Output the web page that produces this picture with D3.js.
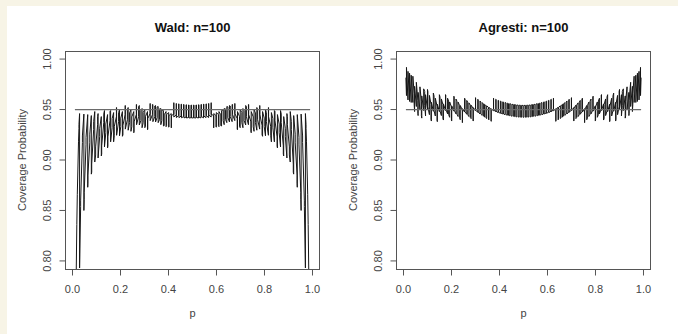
<!DOCTYPE html>
<html>
<head>
<meta charset="utf-8">
<script src="https://cdn.jsdelivr.net/npm/d3@7"></script>
<style>
  body { margin: 0; background: #fff; }
  svg { display: block; font-family: "Liberation Sans", Arial, Helvetica, sans-serif; }
</style>
</head>
<body>
<div id="chart"></div>
<script>
// coverage probability of the nominal 95% interval, n = 100
// one entry per break in the curve: [p, coverage just before, coverage just after]
const waldBreaks = [
  [0.0100,0.634,0.634],[0.0150,0.779,0.779],[0.0180,0.836,0.836],[0.0200,0.866,0.866],[0.0250,0.918,0.918],
  [0.0268,0.931,0.935],[0.0295,0.946,0.793],[0.0339,0.854,0.8595],[0.0412,0.9175,0.9238],[0.0474,0.9455,0.850],
  [0.0487,0.861,0.868],[0.0563,0.915,0.9225],[0.0634,0.945,0.873],[0.0641,0.877,0.885],[0.0720,0.917,0.9256],
  [0.0784,0.944,0.886],[0.0800,0.888,0.896],[0.0881,0.930,0.938],[0.0927,0.948,0.898],[0.0964,0.905,0.913],
  [0.1047,0.935,0.943],[0.1066,0.946,0.902],[0.1131,0.923,0.931],[0.1200,0.943,0.904],[0.1216,0.906,0.914],
  [0.1302,0.937,0.9455],[0.1332,0.949,0.913],[0.1388,0.927,0.9356],[0.1461,0.945,0.912],[0.1475,0.914,0.923],
  [0.1563,0.939,0.948],[0.1588,0.949,0.918],[0.1651,0.932,0.941],[0.1713,0.947,0.918],[0.1740,0.924,0.933],
  [0.1830,0.943,0.952],[0.1837,0.952,0.9245],[0.1920,0.938,0.947],[0.1959,0.950,0.924],[0.2011,0.933,0.9415],
  [0.2080,0.948,0.9235],[0.2102,0.925,0.9344],[0.2194,0.945,0.954],[0.2200,0.954,0.9306],[0.2286,0.940,0.9495],
  [0.2319,0.952,0.9295],[0.2378,0.937,0.9466],[0.2436,0.950,0.9284],[0.2471,0.933,0.9427],[0.2553,0.948,0.927],
  [0.2565,0.928,0.9378],[0.2659,0.945,0.955],[0.2669,0.955,0.935],[0.2754,0.943,0.953],[0.2784,0.954,0.9347],
  [0.2849,0.939,0.949],[0.2898,0.951,0.932],[0.2944,0.937,0.947],[0.3012,0.950,0.932],[0.3040,0.933,0.943],
  [0.3125,0.948,0.930],[0.3136,0.9305,0.941],[0.3233,0.946,0.956],[0.3237,0.956,0.939],[0.3330,0.945,0.955],
  [0.3349,0.955,0.938],[0.3427,0.943,0.9535],[0.3460,0.954,0.9377],[0.3525,0.942,0.9526],[0.3570,0.953,0.937],
  [0.3623,0.940,0.9506],[0.3680,0.951,0.935],[0.3722,0.939,0.9497],[0.3789,0.949,0.9337],[0.3821,0.934,0.9448],
  [0.3898,0.948,0.933],[0.3920,0.934,0.945],[0.4007,0.947,0.9325],[0.4020,0.933,0.944],[0.4114,0.946,0.9318],
  [0.4120,0.932,0.944],[0.4221,0.9454,0.9568],[0.4222,0.9568,0.9426],[0.4322,0.9446,0.956],[0.4329,0.956,0.942],
  [0.4423,0.944,0.9556],[0.4435,0.9556,0.942],[0.4525,0.9435,0.9553],[0.4541,0.9553,0.9418],[0.4627,0.943,0.955],
  [0.4646,0.955,0.9417],[0.4730,0.9425,0.9547],[0.4751,0.9547,0.9416],[0.4833,0.9421,0.9545],[0.4856,0.9545,0.9416],
  [0.4936,0.9419,0.9544],[0.4960,0.9544,0.9417],[0.5040,0.9417,0.9544],[0.5064,0.9544,0.9419],[0.5144,0.9416,0.9545],
  [0.5167,0.9545,0.9421],[0.5249,0.9416,0.9547],[0.5270,0.9547,0.9425],[0.5354,0.9417,0.955],[0.5373,0.955,0.943],
  [0.5459,0.9418,0.9553],[0.5475,0.9553,0.9435],[0.5565,0.942,0.9556],[0.5577,0.9556,0.944],[0.5671,0.942,0.956],
  [0.5678,0.956,0.9446],[0.5778,0.9426,0.9568],[0.5779,0.9568,0.9454],[0.5880,0.944,0.932],[0.5886,0.9318,0.946],
  [0.5980,0.944,0.933],[0.5993,0.9325,0.947],[0.6080,0.945,0.934],[0.6102,0.933,0.948],[0.6179,0.9448,0.934],
  [0.6211,0.9337,0.949],[0.6278,0.9497,0.939],[0.6320,0.935,0.951],[0.6377,0.9506,0.940],[0.6430,0.937,0.953],
  [0.6475,0.9526,0.942],[0.6540,0.9377,0.954],[0.6573,0.9535,0.943],[0.6651,0.938,0.955],[0.6670,0.955,0.945],
  [0.6763,0.939,0.956],[0.6767,0.956,0.946],[0.6864,0.941,0.9305],[0.6875,0.930,0.948],[0.6960,0.943,0.933],
  [0.6988,0.932,0.950],[0.7056,0.947,0.937],[0.7102,0.932,0.951],[0.7151,0.949,0.939],[0.7216,0.9347,0.954],
  [0.7246,0.953,0.943],[0.7331,0.935,0.955],[0.7341,0.955,0.945],[0.7435,0.9378,0.928],[0.7447,0.927,0.948],
  [0.7529,0.9427,0.933],[0.7564,0.9284,0.950],[0.7622,0.9466,0.937],[0.7681,0.9295,0.952],[0.7714,0.9495,0.940],
  [0.7800,0.9306,0.954],[0.7806,0.954,0.945],[0.7898,0.9344,0.925],[0.7920,0.9235,0.948],[0.7989,0.9415,0.933],
  [0.8041,0.924,0.950],[0.8080,0.947,0.938],[0.8163,0.9245,0.952],[0.8170,0.952,0.943],[0.8260,0.933,0.924],
  [0.8287,0.918,0.947],[0.8349,0.941,0.932],[0.8412,0.918,0.949],[0.8437,0.948,0.939],[0.8525,0.923,0.914],
  [0.8539,0.912,0.945],[0.8612,0.9356,0.927],[0.8668,0.913,0.949],[0.8698,0.9455,0.937],[0.8784,0.914,0.906],
  [0.8800,0.904,0.943],[0.8869,0.931,0.923],[0.8934,0.902,0.946],[0.8953,0.943,0.935],[0.9036,0.913,0.905],
  [0.9073,0.898,0.948],[0.9119,0.938,0.930],[0.9200,0.896,0.888],[0.9216,0.886,0.944],[0.9280,0.9256,0.917],
  [0.9359,0.885,0.877],[0.9366,0.873,0.945],[0.9437,0.9225,0.915],[0.9513,0.868,0.861],[0.9526,0.850,0.9455],
  [0.9588,0.9238,0.9175],[0.9661,0.8595,0.854],[0.9705,0.793,0.946],[0.9732,0.935,0.931],[0.9750,0.918,0.918],
  [0.9800,0.866,0.866],[0.9820,0.836,0.836],[0.9850,0.779,0.779],[0.9900,0.634,0.634]
];

const agrestiBreaks = [
  [0.0100,0.9816,0.9816],[0.0124,0.9638,0.9918],[0.0187,0.9595,0.9878],[0.0252,0.958,0.986],[0.0320,0.957,0.984],
  [0.0390,0.957,0.983],[0.0444,0.966,0.955],[0.0462,0.948,0.973],[0.0535,0.953,0.977],[0.0599,0.959,0.946],
  [0.0609,0.944,0.967],[0.0685,0.950,0.9725],[0.0744,0.958,0.944],[0.0762,0.9415,0.9635],[0.0840,0.949,0.9705],
  [0.0883,0.968,0.954],[0.0919,0.9437,0.9647],[0.0999,0.9502,0.9699],[0.1016,0.9678,0.9526],[0.1080,0.9449,0.9640],
  [0.1146,0.9553,0.9404],[0.1161,0.9386,0.9572],[0.1243,0.9483,0.9663],[0.1273,0.9633,0.9487],[0.1326,0.9436,0.9612],
  [0.1398,0.9534,0.9392],[0.1410,0.9380,0.9553],[0.1494,0.9479,0.9647],[0.1521,0.9624,0.9485],[0.1578,0.9440,0.9605],
  [0.1642,0.9549,0.9411],[0.1664,0.9396,0.9556],[0.1750,0.9490,0.9648],[0.1761,0.9640,0.9504],[0.1836,0.9457,0.9612],
  [0.1879,0.9584,0.9450],[0.1923,0.9423,0.9575],[0.1996,0.9527,0.9394],[0.2010,0.9386,0.9536],[0.2098,0.9484,0.9632],
  [0.2112,0.9624,0.9494],[0.2187,0.9457,0.9604],[0.2226,0.9583,0.9454],[0.2275,0.9431,0.9574],[0.2340,0.9538,0.9411],
  [0.2365,0.9399,0.9540],[0.2453,0.9497,0.9370],[0.2454,0.9370,0.9509],[0.2544,0.9475,0.9612],[0.2565,0.9605,0.9479],
  [0.2635,0.9453,0.9590],[0.2676,0.9573,0.9449],[0.2726,0.9430,0.9566],[0.2786,0.9543,0.9420],[0.2817,0.9410,0.9543],
  [0.2896,0.9514,0.9391],[0.2909,0.9386,0.9519],[0.3001,0.9488,0.9618],[0.3005,0.9615,0.9495],[0.3093,0.9472,0.9602],
  [0.3114,0.9596,0.9476],[0.3186,0.9456,0.9585],[0.3221,0.9575,0.9455],[0.3279,0.9442,0.9569],[0.3329,0.9555,0.9436],
  [0.3373,0.9426,0.9552],[0.3435,0.9538,0.9418],[0.3467,0.9411,0.9537],[0.3542,0.9521,0.9402],[0.3561,0.9397,0.9521],
  [0.3647,0.9503,0.9385],[0.3656,0.9383,0.9507],[0.3751,0.9488,0.9612],[0.3753,0.9612,0.9496],[0.3846,0.9479,0.9602],
  [0.3857,0.9600,0.9483],[0.3942,0.9470,0.9592],[0.3962,0.9590,0.9473],[0.4038,0.9462,0.9583],[0.4065,0.9581,0.9464],
  [0.4135,0.9456,0.9576],[0.4169,0.9573,0.9456],[0.4232,0.9449,0.9569],[0.4272,0.9566,0.9449],[0.4329,0.9444,0.9563],
  [0.4374,0.9559,0.9443],[0.4426,0.9439,0.9558],[0.4476,0.9555,0.9438],[0.4524,0.9434,0.9552],[0.4578,0.9549,0.9434],
  [0.4623,0.9430,0.9549],[0.4679,0.9546,0.9429],[0.4721,0.9427,0.9545],[0.4780,0.9543,0.9426],[0.4820,0.9425,0.9543],
  [0.4881,0.9541,0.9424],[0.4920,0.9424,0.9541],[0.4981,0.9541,0.9424],[0.5019,0.9424,0.9541],[0.5080,0.9541,0.9424],
  [0.5119,0.9424,0.9541],[0.5180,0.9543,0.9425],[0.5220,0.9426,0.9543],[0.5279,0.9545,0.9427],[0.5321,0.9429,0.9546],
  [0.5377,0.9549,0.9430],[0.5422,0.9434,0.9549],[0.5476,0.9552,0.9434],[0.5524,0.9438,0.9555],[0.5574,0.9558,0.9439],
  [0.5626,0.9443,0.9559],[0.5671,0.9563,0.9444],[0.5728,0.9449,0.9566],[0.5768,0.9569,0.9449],[0.5831,0.9456,0.9573],
  [0.5865,0.9576,0.9456],[0.5935,0.9464,0.9581],[0.5962,0.9583,0.9462],[0.6038,0.9473,0.9590],[0.6058,0.9592,0.9470],
  [0.6143,0.9483,0.9600],[0.6154,0.9602,0.9479],[0.6247,0.9496,0.9612],[0.6249,0.9612,0.9488],[0.6344,0.9507,0.9383],
  [0.6353,0.9385,0.9503],[0.6439,0.9521,0.9397],[0.6458,0.9402,0.9521],[0.6533,0.9537,0.9411],[0.6565,0.9418,0.9538],
  [0.6627,0.9552,0.9426],[0.6671,0.9436,0.9555],[0.6721,0.9569,0.9442],[0.6779,0.9455,0.9575],[0.6814,0.9585,0.9456],
  [0.6886,0.9476,0.9596],[0.6907,0.9602,0.9472],[0.6995,0.9495,0.9615],[0.6999,0.9618,0.9488],[0.7091,0.9519,0.9386],
  [0.7104,0.9391,0.9514],[0.7183,0.9543,0.9410],[0.7214,0.9420,0.9543],[0.7274,0.9566,0.9430],[0.7324,0.9449,0.9573],
  [0.7365,0.9590,0.9453],[0.7435,0.9479,0.9605],[0.7456,0.9612,0.9475],[0.7546,0.9509,0.9370],[0.7547,0.9370,0.9497],
  [0.7635,0.9540,0.9399],[0.7660,0.9411,0.9538],[0.7725,0.9574,0.9431],[0.7774,0.9454,0.9583],[0.7813,0.9604,0.9457],
  [0.7888,0.9494,0.9624],[0.7902,0.9632,0.9484],[0.7990,0.9536,0.9386],[0.8004,0.9394,0.9527],[0.8077,0.9575,0.9423],
  [0.8121,0.9450,0.9584],[0.8164,0.9612,0.9457],[0.8239,0.9504,0.9640],[0.8250,0.9648,0.9490],[0.8336,0.9556,0.9396],
  [0.8358,0.9411,0.9549],[0.8422,0.9605,0.9440],[0.8479,0.9485,0.9624],[0.8506,0.9647,0.9479],[0.8590,0.9553,0.9380],
  [0.8602,0.9392,0.9534],[0.8674,0.9612,0.9436],[0.8727,0.9487,0.9633],[0.8757,0.9663,0.9483],[0.8839,0.9572,0.9386],
  [0.8854,0.9404,0.9553],[0.8920,0.9640,0.9449],[0.8984,0.9526,0.9678],[0.9001,0.9699,0.9502],[0.9081,0.9647,0.9437],
  [0.9117,0.954,0.968],[0.9160,0.9705,0.949],[0.9238,0.9635,0.9415],[0.9256,0.944,0.958],[0.9315,0.9725,0.950],
  [0.9391,0.967,0.944],[0.9401,0.946,0.959],[0.9465,0.977,0.953],[0.9538,0.973,0.948],[0.9556,0.955,0.966],
  [0.9610,0.983,0.957],[0.9680,0.984,0.957],[0.9748,0.986,0.958],[0.9813,0.9878,0.9595],[0.9876,0.9918,0.9638],
  [0.9900,0.9816,0.9816]
];

const nominal = 0.95;
const nominalSpan = [0.01, 0.99];
const xTicks = [0, 0.2, 0.4, 0.6, 0.8, 1.0];
const yTicks = [0.80, 0.85, 0.90, 0.95, 1.00];
const panelTitles = ['Wald: n=100', 'Agresti: n=100'];
const xLabel = 'p';
const yLabel = 'Coverage Probability';

const width = 678, height = 334;
const plotW = 254;
const plotTop = 51, plotBottom = 269;
const panelLeft = [65.5, 396.5];

const svg = d3.select('#chart').append('svg')
  .attr('width', width)
  .attr('height', height);

svg.append('rect').attr('width', width).attr('height', height).attr('fill', '#fff');
// cream edge along the top and left of the picture
svg.append('rect').attr('width', width).attr('height', 6).attr('fill', '#f7f4e6');
svg.append('rect').attr('width', 7).attr('height', height).attr('fill', '#f7f4e6');

function drawPanel(breaks, title, x0, idx) {
  const x = d3.scaleLinear().domain([-0.0292, 1.0292]).range([x0, x0 + plotW]);
  const y = d3.scaleLinear().domain([0.792, 1.008]).range([plotBottom, plotTop]);
  const g = svg.append('g');

  const pts = [];
  breaks.forEach(b => {
    pts.push([b[0], b[1]]);
    if (b[2] !== b[1]) pts.push([b[0], b[2]]);
  });

  g.append('clipPath').attr('id', 'clip' + idx)
    .append('rect')
    .attr('x', x0).attr('y', plotTop)
    .attr('width', plotW).attr('height', plotBottom - plotTop);

  const line = d3.line().x(d => x(d[0])).y(d => y(d[1]));

  g.append('path')
    .datum(pts)
    .attr('clip-path', 'url(#clip' + idx + ')')
    .attr('d', line)
    .attr('fill', 'none')
    .attr('stroke', '#161616')
    .attr('stroke-width', 1);

  // nominal level
  g.append('path')
    .datum(nominalSpan.map(p => [p, nominal]))
    .attr('d', line)
    .attr('fill', 'none')
    .attr('stroke', '#6a6a6a')
    .attr('stroke-width', 1.2);

  g.append('rect')
    .attr('x', x0).attr('y', plotTop + 0.5)
    .attr('width', plotW).attr('height', plotBottom - plotTop)
    .attr('fill', 'none')
    .attr('stroke', '#555')
    .attr('stroke-width', 1);

  const xAxis = d3.axisBottom(x).tickValues(xTicks).tickFormat(d3.format('.1f'))
    .tickSize(6).tickSizeOuter(0).offset(0);
  const gx = g.append('g').attr('transform', 'translate(0,' + (plotBottom + 0.5) + ')').call(xAxis);
  gx.select('.domain').remove();
  gx.selectAll('line').attr('stroke', '#555');
  gx.selectAll('text')
    .attr('y', 23.8).attr('dy', 0)
    .attr('fill', '#444')
    .style('font-size', '11px');

  const yAxis = d3.axisLeft(y).tickValues(yTicks).tickFormat(d3.format('.2f'))
    .tickSize(6).tickSizeOuter(0).offset(0);
  const gy = g.append('g').attr('transform', 'translate(' + x0 + ',0)').call(yAxis);
  gy.select('.domain').remove();
  gy.selectAll('line').attr('stroke', '#555');
  gy.selectAll('text')
    .attr('transform', 'rotate(-90)')
    .attr('x', 0).attr('y', -14.5).attr('dy', 0)
    .attr('text-anchor', 'middle')
    .attr('fill', '#444')
    .style('font-size', '11px');

  g.append('text')
    .attr('x', x0 + plotW / 2).attr('y', 31.5)
    .attr('text-anchor', 'middle')
    .style('font-size', '13px').style('font-weight', 'bold')
    .attr('fill', '#111')
    .text(title);

  g.append('text')
    .attr('x', x0 + plotW / 2).attr('y', 317.4)
    .attr('text-anchor', 'middle')
    .style('font-size', '11px')
    .attr('fill', '#444')
    .text(xLabel);

  g.append('text')
    .attr('transform', 'translate(' + (x0 - 39.3) + ',' + ((plotTop + plotBottom) / 2) + ') rotate(-90)')
    .attr('text-anchor', 'middle')
    .style('font-size', '11px')
    .attr('fill', '#444')
    .text(yLabel);
}

drawPanel(waldBreaks, panelTitles[0], panelLeft[0], 0);
drawPanel(agrestiBreaks, panelTitles[1], panelLeft[1], 1);
</script>
</body>
</html>
